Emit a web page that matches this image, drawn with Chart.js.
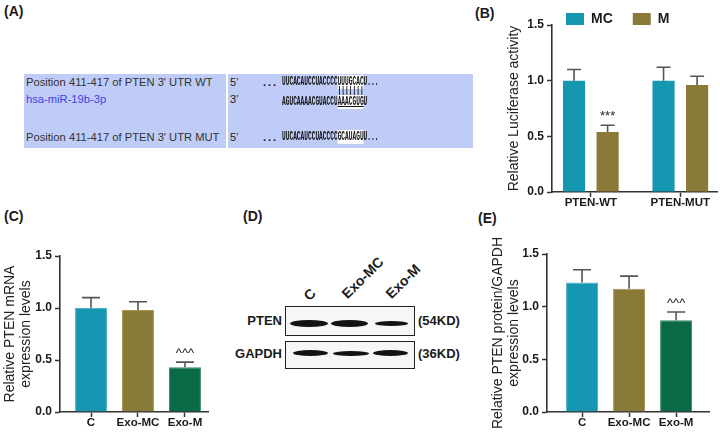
<!DOCTYPE html>
<html><head><meta charset="utf-8">
<script src="https://cdn.jsdelivr.net/npm/chart.js@4.4.0/dist/chart.umd.min.js"></script>
<style>
body{margin:0;background:#fff;}
#root{position:relative;width:720px;height:432px;overflow:hidden;font-family:"Liberation Sans",Arial,sans-serif;color:#1a1a1a;background:#fff;}
.pl{position:absolute;font-weight:bold;font-size:14px;line-height:14px;}
.cell{position:absolute;background:#bfccf8;}
.lt{position:absolute;font-size:11.2px;line-height:12px;color:#333;white-space:nowrap;}
.prime{position:absolute;font-size:11px;line-height:12px;color:#222;}
.seq{position:absolute;font-family:"Liberation Mono",monospace;font-size:12px;line-height:12px;color:#111;white-space:pre;font-weight:bold;transform-origin:0 0;transform:scaleX(0.515);}
.hl{background:#fff;}
.dots{position:absolute;font-weight:bold;font-size:11px;line-height:12px;letter-spacing:2px;color:#111;}
.box{position:absolute;border:1.5px solid #222;background:#f6f6f6;box-sizing:border-box;}
.band{position:absolute;background:#121212;border-radius:50%/50%;filter:blur(0.5px);}
.bl{position:absolute;font-weight:bold;font-size:13px;line-height:14px;white-space:nowrap;}
.lane{position:absolute;font-weight:bold;font-size:14px;line-height:14px;white-space:nowrap;transform-origin:0 100%;transform:rotate(-45deg);}
canvas{position:absolute;}
</style></head>
<body><div id="root">
  <!-- Panel labels -->
  <div class="pl" style="left:4px;top:4px">(A)</div>
  <div class="pl" style="left:475px;top:6px">(B)</div>
  <div class="pl" style="left:4px;top:209px">(C)</div>
  <div class="pl" style="left:243px;top:209px">(D)</div>
  <div class="pl" style="left:478px;top:211px">(E)</div>

  <!-- Panel A -->
  <div class="cell" style="left:24px;top:74px;width:202px;height:74px"></div>
  <div class="cell" style="left:228px;top:74px;width:245px;height:74px"></div>
  <div class="lt" style="left:26px;top:76px">Position 411-417 of PTEN 3' UTR WT</div>
  <div class="lt" style="left:26px;top:93px;color:#3a44e0">hsa-miR-19b-3p</div>
  <div class="lt" style="left:26px;top:131px">Position 411-417 of PTEN 3' UTR MUT</div>
  <div class="prime" style="left:230px;top:76px">5’</div>
  <div class="prime" style="left:230px;top:93px">3’</div>
  <div class="prime" style="left:230px;top:131px">5’</div>
  <div class="dots" style="left:263px;top:76px">...</div>
  <div class="dots" style="left:263px;top:131px">...</div>
  <div class="seq" style="left:282px;top:76px">UUCACAUCCUACCCC<span class="hl">UUUGCAC</span>U...</div>
  <div class="seq" style="left:282px;top:86px;color:#000">               |||||||</div>
  <div class="seq" style="left:282px;top:96px">AGUCAAAACGUACCU<span class="hl" style="text-decoration:underline">AAACGUG</span>U</div>
  <div class="seq" style="left:282px;top:131px">UUCACAUCCUACCCC<span class="hl">GCAUAGU</span>U...</div>

  <!-- Panel D (western blot image) -->
  <div class="lane" style="left:311px;top:289px">C</div>
  <div class="lane" style="left:349px;top:287px">Exo-MC</div>
  <div class="lane" style="left:393px;top:287px">Exo-M</div>
  <div class="bl" style="left:244px;top:314px;width:38px;text-align:right">PTEN</div>
  <div class="bl" style="left:232px;top:347px;width:50px;text-align:right">GAPDH</div>
  <div class="bl" style="left:418px;top:314px">(54KD)</div>
  <div class="bl" style="left:418px;top:347px">(36KD)</div>
  <div class="box" style="left:285px;top:306px;width:130px;height:30px"></div>
  <div class="box" style="left:285px;top:341px;width:130px;height:28px"></div>
  <div class="band" style="left:290px;top:320px;width:38px;height:7px"></div>
  <div class="band" style="left:331px;top:320px;width:37px;height:7px"></div>
  <div class="band" style="left:375px;top:321px;width:33px;height:5px"></div>
  <div class="band" style="left:293px;top:350px;width:35px;height:6px"></div>
  <div class="band" style="left:333px;top:351px;width:36px;height:5px"></div>
  <div class="band" style="left:373px;top:350px;width:35px;height:6px"></div>

  <canvas id="chartB" width="280" height="215" style="left:440px;top:0px"></canvas>
  <canvas id="chartC" width="220" height="202" style="left:0px;top:230px"></canvas>
  <canvas id="chartE" width="240" height="202" style="left:480px;top:230px"></canvas>
</div>
<script>
// ---------- Data ----------
const yTicks = [0, 0.5, 1.0, 1.5];

const bCategories = ['PTEN-WT', 'PTEN-MUT'];
const bSeries = ['MC', 'M'];
const bMC = [1.00, 1.00];
const bMCsd = [0.10, 0.12];
const bM = [0.54, 0.96];
const bMsd = [0.06, 0.08];
const bMsig = ['***', ''];

const cCategories = ['C', 'Exo-MC', 'Exo-M'];
const cValues = [1.00, 0.98, 0.43];
const cSD = [0.10, 0.08, 0.05];
const cSig = ['', '', '^^^'];

const eCategories = ['C', 'Exo-MC', 'Exo-M'];
const eValues = [1.23, 1.17, 0.87];
const eSD = [0.12, 0.12, 0.08];
const eSig = ['', '', '^^^'];

// ---------- Styles ----------
const TEAL = '#1596b1', TEAL_B = '#4fb2c6';
const OLIVE = '#8a7a37', OLIVE_B = '#a59652';
const GREEN = '#0a6a45', GREEN_B = '#3a8a68';
const AXIS = '#333';
const FONT = '"Liberation Sans", Arial, sans-serif';

Chart.defaults.font.family = FONT;
Chart.defaults.color = '#1a1a1a';
Chart.defaults.animation = false;

const toPoints = (vals) => vals.map((v, i) => ({x: i + 1, y: v}));

const errPlugin = {
  id: 'errbars',
  afterDatasetsDraw(chart) {
    const ctx = chart.ctx, ys = chart.scales.y;
    chart.data.datasets.forEach((ds, di) => {
      const meta = chart.getDatasetMeta(di);
      meta.data.forEach((el, i) => {
        const v = ds.data[i].y, sd = ds.sd[i];
        const yb = ys.getPixelForValue(v);
        const yt = ys.getPixelForValue(v + sd);
        const cap = Math.max(el.width * 0.28, 7);
        ctx.save();
        ctx.strokeStyle = '#555';
        ctx.lineWidth = 1.6;
        ctx.beginPath();
        ctx.moveTo(el.x, yb); ctx.lineTo(el.x, yt);
        ctx.moveTo(el.x - cap, yt); ctx.lineTo(el.x + cap, yt);
        ctx.stroke();
        if (ds.sig && ds.sig[i]) {
          ctx.fillStyle = '#222';
          ctx.font = '13px ' + FONT;
          ctx.textAlign = 'center';
          ctx.textBaseline = 'bottom';
          ctx.fillText(ds.sig[i], el.x, yt - 2);
        }
        ctx.restore();
      });
    });
  }
};

const legendPlace = {
  id: 'legendPlace',
  afterInit(chart) {
    const lg = chart.legend;
    if (!lg || lg._patched) return;
    const f = lg.fit;
    lg.fit = function () { f.call(this); this.height = 0; };
    lg._patched = true;
  },
  afterLayout(chart, args, opts) {
    const lg = chart.legend;
    if (!lg) return;
    lg.left = opts.left; lg.top = opts.top;
    lg.right = chart.width; lg.bottom = opts.top + 45;
  }
};

function axisGrid() {
  return {display: true, offset: false, drawOnChartArea: false, drawTicks: true,
          tickLength: 5, tickWidth: 1.5, tickColor: AXIS};
}

function barChart(id, cfg) {
  return new Chart(document.getElementById(id), {
    type: 'bar',
    data: {datasets: cfg.datasets},
    options: {
      responsive: false, animation: false, devicePixelRatio: 1,
      layout: {padding: {top: cfg.padTop, right: cfg.padRight, left: 0, bottom: 0}},
      plugins: {
        legend: cfg.legend || {display: false},
        tooltip: {enabled: false},
        legendPlace: cfg.legendPlace || {left: 0, top: 0}
      },
      scales: {
        x: {
          type: 'linear', min: cfg.xmin, max: cfg.xmax, offset: false,
          afterBuildTicks: s => { s.ticks = cfg.cats.map((c, i) => ({value: i + 1})); },
          afterFit: s => { s.height = cfg.xh; },
          grid: axisGrid(),
          border: {display: true, color: AXIS, width: 1.6},
          ticks: {callback: v => cfg.cats[Math.round(v) - 1], autoSkip: false,
                  maxRotation: 0, minRotation: 0, padding: cfg.xpad,
                  font: {size: 11.5, weight: 'bold'}, color: '#1a1a1a'}
        },
        y: {
          min: 0, max: 1.5,
          afterBuildTicks: s => { s.ticks = yTicks.map(v => ({value: v})); },
          afterFit: s => { s.width = cfg.yw; },
          grid: axisGrid(),
          border: {display: true, color: AXIS, width: 1.6},
          ticks: {callback: v => Number(v).toFixed(1), padding: 3,
                  font: {size: 12, weight: 'bold'}, color: '#1a1a1a'},
          title: {display: true, text: cfg.title, font: {size: 14, lineHeight: cfg.titleLH || 1.2}, color: '#222',
                  padding: {top: cfg.titlePad, bottom: 0}}
        }
      }
    },
    plugins: [errPlugin, legendPlace]
  });
}

// Panel B
barChart('chartB', {
  cats: bCategories, xmin: 0.566, xmax: 2.41, padTop: 25, padRight: 3,
  yw: 112, xh: 23, xpad: -1, titlePad: 66,
  title: 'Relative Luciferase activity',
  legend: {display: true, position: 'top', align: 'start',
           labels: {boxWidth: 18, boxHeight: 12, padding: 20,
                    font: {size: 14, weight: 'bold'}, color: '#1a1a1a'}},
  legendPlace: {left: 106, top: -8},
  datasets: [
    {label: bSeries[0], data: toPoints(bMC), sd: bMCsd, backgroundColor: TEAL,
     borderColor: TEAL, borderWidth: 0, categoryPercentage: 0.75, barPercentage: 0.66},
    {label: bSeries[1], data: toPoints(bM), sd: bMsd, sig: bMsig, backgroundColor: OLIVE,
     borderColor: OLIVE, borderWidth: 0, categoryPercentage: 0.75, barPercentage: 0.66}
  ]
});

// Panel C
barChart('chartC', {
  cats: cCategories, xmin: 0.34, xmax: 3.49, padTop: 26, padRight: 12,
  yw: 60, xh: 20, xpad: -1, titlePad: 2, titleLH: 1.15,
  title: ['Relative PTEN mRNA', 'expression levels'],
  datasets: [
    {label: 'PTEN mRNA', data: toPoints(cValues), sd: cSD, sig: cSig,
     backgroundColor: [TEAL, OLIVE, GREEN], borderColor: [TEAL_B, OLIVE_B, GREEN_B],
     borderWidth: 1, categoryPercentage: 1, barPercentage: 0.68}
  ]
});

// Panel E
barChart('chartE', {
  cats: eCategories, xmin: 0.255, xmax: 3.70, padTop: 24, padRight: 11,
  yw: 67, xh: 20, xpad: -1, titlePad: 10, titleLH: 1.15,
  title: ['Relative PTEN protein/GAPDH', 'expression levels'],
  datasets: [
    {label: 'PTEN protein/GAPDH', data: toPoints(eValues), sd: eSD, sig: eSig,
     backgroundColor: [TEAL, OLIVE, GREEN], borderColor: [TEAL_B, OLIVE_B, GREEN_B],
     borderWidth: 1, categoryPercentage: 1, barPercentage: 0.68}
  ]
});
</script>
</body></html>
